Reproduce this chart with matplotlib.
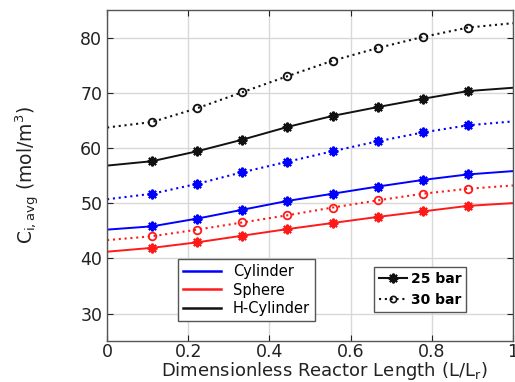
import numpy as np
import matplotlib
matplotlib.use('Agg')
from matplotlib import pyplot as plt
from matplotlib.lines import Line2D

# positions along reactor (L/Lr): ends plus 8 marker points
x = [0, 1/9, 2/9, 3/9, 4/9, 5/9, 6/9, 7/9, 8/9, 1]

cyl_25 = [45.2, 45.8, 47.2, 48.8, 50.4, 51.7, 53.0, 54.2, 55.2, 55.8]
cyl_30 = [50.7, 51.7, 53.5, 55.6, 57.5, 59.4, 61.2, 62.8, 64.1, 64.8]
sph_25 = [41.2, 41.9, 42.9, 44.1, 45.3, 46.4, 47.5, 48.5, 49.5, 50.0]
sph_30 = [43.3, 44.0, 45.2, 46.5, 47.8, 49.2, 50.5, 51.7, 52.6, 53.2]
hcyl_25 = [56.8, 57.6, 59.4, 61.5, 63.8, 65.8, 67.4, 68.9, 70.3, 70.9]
hcyl_30 = [63.7, 64.7, 67.2, 70.1, 73.0, 75.8, 78.1, 80.1, 81.8, 82.6]

fig = plt.figure(figsize=(5.15, 3.82), dpi=100)
ax = fig.add_axes([0.208, 0.107, 0.788, 0.867])

dots = (0, (1, 1.8))
star = (8, 2, 0)
me = slice(1, -1)

ax.plot(x, cyl_25, '-', color='#0000ff', lw=1.4, marker=star, ms=7, mew=1.5, markevery=me)
ax.plot(x, cyl_30, linestyle=dots, color='#0000ff', lw=1.5, marker=star, ms=7, mew=1.5, markevery=me)
ax.plot(x, sph_25, '-', color='#ff1a1a', lw=1.4, marker=star, ms=7, mew=1.5, markevery=me)
ax.plot(x, sph_30, linestyle=dots, color='#ff1a1a', lw=1.5, marker='o', ms=5.5, mew=1.3, mfc='none', markevery=me)
ax.plot(x, hcyl_25, '-', color='#111111', lw=1.4, marker=star, ms=7, mew=1.5, markevery=me)
ax.plot(x, hcyl_30, linestyle=dots, color='#111111', lw=1.5, marker='o', ms=5.5, mew=1.3, mfc='none', markevery=me)

ax.set_xlim(0, 1)
ax.set_ylim(25, 85)
ax.set_xticks([0, 0.2, 0.4, 0.6, 0.8, 1])
ax.set_xticklabels(['0', '0.2', '0.4', '0.6', '0.8', '1'])
ax.set_yticks([30, 40, 50, 60, 70, 80])
ax.grid(True, color='#d8d8d8', lw=1)
ax.tick_params(direction='in', top=True, right=True, labelsize=12.5, colors='#222222', length=4)
ax.tick_params(axis='x', pad=1)
for s in ax.spines.values():
    s.set_color('#555555')
    s.set_linewidth(1)

ax.set_xlabel('Dimensionless Reactor Length (L/L$_\\mathregular{r}$)', fontsize=13, color='#222222')
ax.xaxis.set_label_coords(0.535, -0.058)
ax.set_ylabel('C$_\\mathregular{i,avg}$ (mol/m$^\\mathregular{3}$)', fontsize=13.5, color='#222222')
ax.yaxis.set_label_coords(-0.16, 0.5)

h1 = [Line2D([], [], color='#0000ff', lw=1.8),
      Line2D([], [], color='#ff1a1a', lw=1.8),
      Line2D([], [], color='#111111', lw=1.8)]
leg1 = ax.legend(h1, ['Cylinder', 'Sphere', 'H-Cylinder'], loc='lower left',
                 bbox_to_anchor=(0.175, 0.06), fontsize=10.5, fancybox=False,
                 edgecolor='#555555', framealpha=1, handlelength=2.6,
                 borderpad=0.35, labelspacing=0.25, handletextpad=0.8, borderaxespad=0)
leg1.get_frame().set_linewidth(1)
ax.add_artist(leg1)

h2 = [Line2D([], [], color='#111111', lw=1.5, marker=star, ms=7, mew=1.5),
      Line2D([], [], color='#111111', lw=1.5, linestyle=dots, marker='o', ms=4.5, mew=1.2, mfc='none')]
leg2 = ax.legend(h2, ['25 bar', '30 bar'], loc='lower left', bbox_to_anchor=(0.658, 0.088),
                 prop={'size': 10, 'weight': 'bold'}, fancybox=False, edgecolor='#555555',
                 framealpha=1, handlelength=2.0, borderpad=0.35, labelspacing=0.5,
                 handletextpad=0.3, borderaxespad=0)
leg2.get_frame().set_linewidth(1)

fig.savefig('out.png', dpi=100)
